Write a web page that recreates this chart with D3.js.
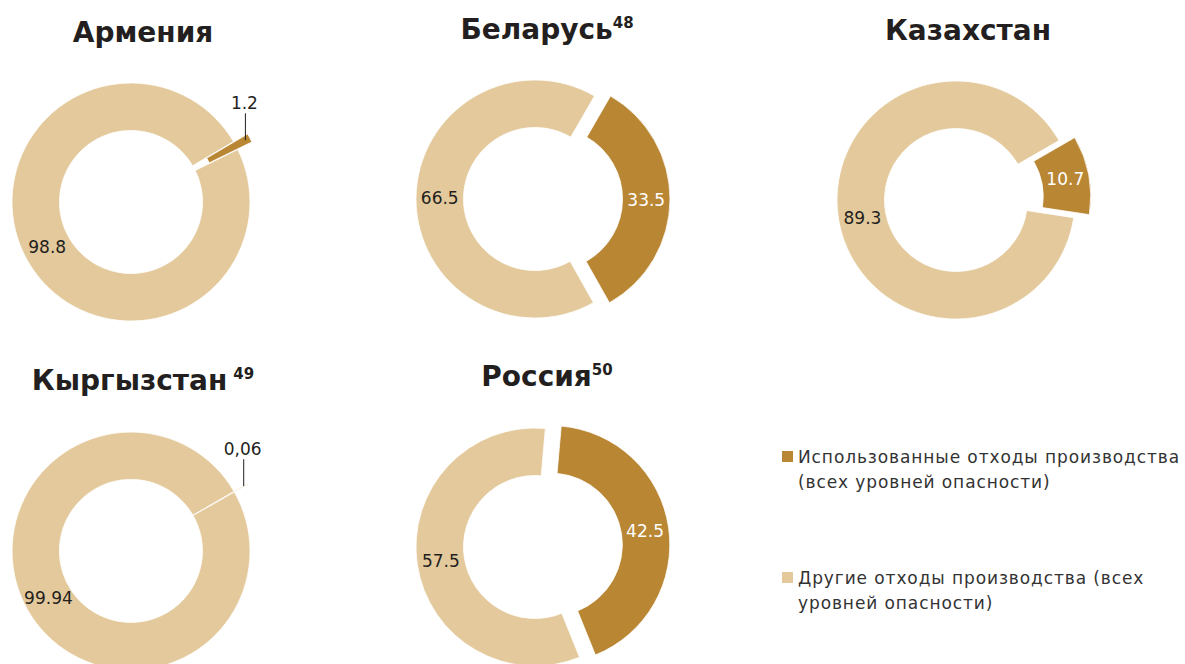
<!DOCTYPE html>
<html>
<head>
<meta charset="utf-8">
<script src="https://cdn.jsdelivr.net/npm/d3@7"></script>
<style>
  body { margin: 0; background: #fff; }
  svg { display: block; font-family: "DejaVu Sans", sans-serif; }
</style>
</head>
<body>
<svg id="chart" width="1185" height="664"></svg>
<script>
// data
var countries = ["Армения", "Беларусь", "Казахстан", "Кыргызстан", "Россия"];
var footnotes = ["", "48", "", "49", "50"];
var usedValues = [1.2, 33.5, 10.7, 0.06, 42.5];
var otherValues = [98.8, 66.5, 89.3, 99.94, 57.5];
var usedLabels = ["1.2", "33.5", "10.7", "0,06", "42.5"];
var otherLabels = ["98.8", "66.5", "89.3", "99.94", "57.5"];
var seriesNames = [
    ["Использованные отходы производства", "(всех уровней опасности)"],
    ["Другие отходы производства (всех", "уровней опасности)"]
];

// layout
var centers = [[131, 202], [535, 199], [956, 200], [131, 551], [535, 547]];
var firstAngle = [59.5, 30, 60, 60, 5]; // degrees, clockwise from top
var rInner = 71.5, rOuter = 119, explode = 16;
var colors = ["#b98634", "#e3c99b"];
var textColor = "#231f20";

var svg = d3.select("#chart");

var arc = d3.arc().innerRadius(rInner).outerRadius(rOuter);

countries.forEach(function (name, i) {
    var cx = centers[i][0], cy = centers[i][1];
    var start = firstAngle[i] * Math.PI / 180;
    var pie = d3.pie().sort(null)
        .value(function (d) { return d.v; })
        .startAngle(start).endAngle(start + 2 * Math.PI);
    var arcs = pie([
        { v: usedValues[i], label: usedLabels[i], k: 0 },
        { v: otherValues[i], label: otherLabels[i], k: 1 }
    ]);

    var g = svg.append("g").attr("transform", "translate(" + cx + "," + cy + ")");

    // title with footnote
    var title = g.append("text")
        .attr("x", 12)
        .attr("y", i < 3 ? -160 : -161)
        .attr("text-anchor", "middle")
        .style("font-size", "28px")
        .style("font-weight", "bold")
        .style("fill", textColor)
        .text(name);
    if (footnotes[i]) {
        title.append("tspan")
            .attr("dy", -11)
            .attr("dx", name === "Кыргызстан" ? 6 : 0)
            .style("font-size", "15px")
            .text(footnotes[i]);
    }

    function shift(d) {
        if (d.data.k !== 0) return [0, 0];
        var a = (d.startAngle + d.endAngle) / 2;
        return [Math.sin(a) * explode, -Math.cos(a) * explode];
    }

    g.selectAll("path.slice")
        .data(arcs.slice().reverse())
        .enter().append("path")
        .attr("class", "slice")
        .attr("d", arc)
        .attr("transform", function (d) { var s = shift(d); return "translate(" + s[0] + "," + s[1] + ")"; })
        .style("fill", function (d) { return colors[d.data.k]; })
        .style("stroke", "#fff")
        .style("stroke-width", 0.8);

    var mid = (rInner + rOuter) / 2;
    arcs.forEach(function (d) {
        var a = (d.startAngle + d.endAngle) / 2;
        var s = shift(d);
        var small = d.data.k === 0 && d.data.v < 5;
        if (small) {
            var tx = Math.sin(a) * 130, ty = -Math.cos(a) * 130;
            g.append("line")
                .attr("x1", tx).attr("y1", ty)
                .attr("x2", tx).attr("y2", ty - 27)
                .style("stroke", textColor)
                .style("stroke-width", 1);
            g.append("text")
                .attr("x", tx - 1)
                .attr("y", ty - 31)
                .attr("text-anchor", "middle")
                .style("font-size", "17px")
                .style("fill", textColor)
                .text(d.data.label);
        } else {
            g.append("text")
                .attr("x", Math.sin(a) * mid + s[0])
                .attr("y", -Math.cos(a) * mid + s[1])
                .attr("dy", "0.35em")
                .attr("text-anchor", "middle")
                .style("font-size", "17px")
                .style("fill", d.data.k === 0 ? "#fff" : textColor)
                .text(d.data.label);
        }
    });
});

// legend
var legend = svg.append("g").attr("transform", "translate(782,451)");
seriesNames.forEach(function (lines, k) {
    var item = legend.append("g").attr("transform", "translate(0," + (k * 121) + ")");
    item.append("rect")
        .attr("width", 11).attr("height", 11)
        .style("fill", colors[k]);
    var t = item.append("text")
        .attr("x", 16)
        .attr("y", 12)
        .style("font-size", "17px")
        .style("letter-spacing", "0.9px")
        .style("fill", "#333");
    lines.forEach(function (line, j) {
        t.append("tspan").attr("x", 16).attr("dy", j === 0 ? 0 : 25).text(line);
    });
});
</script>
</body>
</html>
